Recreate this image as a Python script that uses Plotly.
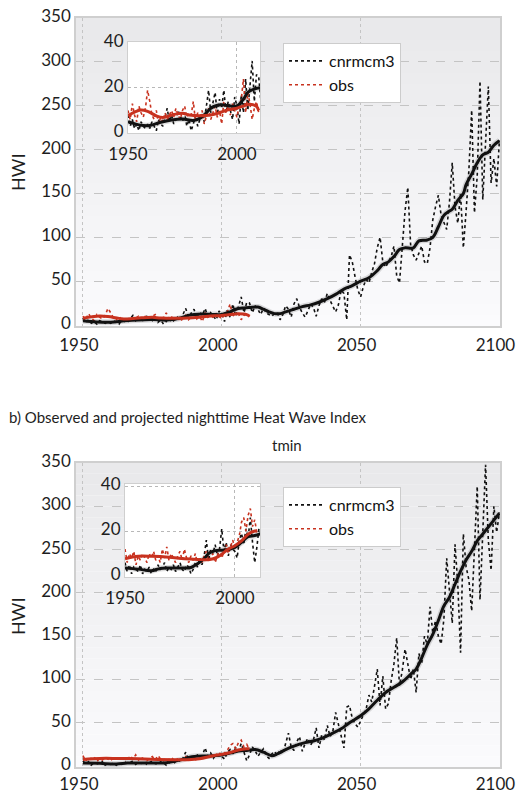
import plotly.graph_objects as go

# ---------------- data ----------------
years = list(range(1950, 2101))
obs_years = list(range(1950, 2011))

tmax_model = [
    8, 3, 6, 2, 4, 1, 5, 3, 2, 4,
    2, 5, 3, 1, 6, 4, 3, 7, 11, 5,
    8, 4, 6, 10, 7, 5, 9, 3, 6, 1,
    4, 8, 3, 6, 9, 5, 12, 19, 9, 14,
    18, 8, 15, 11, 19, 9, 14, 10, 6, 16,
    12, 4, 17, 9, 24, 10, 22, 32, 14, 26,
    25, 14, 22, 18, 12, 19, 14, 12, 10, 13,
    14, 6, 12, 22, 18, 9, 24, 30, 20, 14,
    9, 16, 24, 20, 10, 22, 30, 26, 36, 28,
    22, 15, 23, 40, 36, 6, 80, 72, 55, 40,
    32, 44, 52, 48, 60, 70, 88, 100, 72, 66,
    72, 78, 90, 56, 48, 95, 130, 157, 92, 80,
    74, 82, 90, 72, 70, 88, 120, 135, 148, 125,
    118, 109, 140, 185, 135, 116, 150, 88, 130, 177,
    245, 128, 170, 278, 143, 200, 272, 162, 190, 158,
    211,
]
tmax_obs = [
    10, 6, 13, 8, 5, 12, 9, 7, 11, 19,
    14, 8, 6, 10, 4, 7, 5, 9, 6, 8,
    10, 7, 11, 8, 6, 10, 12, 7, 9, 8,
    14, 5, 9, 6, 10, 4, 8, 11, 6, 9,
    12, 7, 10, 4, 14, 9, 12, 8, 13, 10,
    7, 12, 15, 24, 9, 18, 13, 6, 11, 14,
    9,
]
tmax_model_smooth_years = [1950, 1955, 1960, 1965, 1970, 1975, 1980, 1983, 1985, 1988,
                           1990, 1993, 1997, 2000, 2003, 2005, 2008, 2010, 2013, 2015,
                           2017, 2019, 2021, 2023, 2026, 2029, 2032, 2035, 2038, 2041,
                           2044, 2047, 2050, 2053, 2056, 2058, 2060, 2062, 2064, 2066,
                           2069, 2071, 2074, 2076, 2078, 2080, 2082, 2083, 2085, 2087,
                           2088, 2090, 2092, 2094, 2096, 2098, 2100]
tmax_model_smooth = [5, 3.6, 3.3, 4.8, 5.8, 6.2, 5.6, 6.5, 8, 11,
                     12, 12.5, 12, 12, 15, 18, 19.5, 20, 20.5, 18,
                     15, 13, 13, 15, 18, 21, 23, 26, 30, 35,
                     41, 45, 50, 54, 62, 69, 72, 78, 86, 88,
                     88, 96, 97, 100, 112, 125, 130, 132, 142, 150,
                     160, 172, 185, 194, 197, 205, 210]
tmax_obs_smooth_years = [1950, 1953, 1956, 1959, 1963, 1966, 1971, 1975, 1978, 1983,
                         1988, 1992, 1995, 2000, 2003, 2006, 2009, 2010]
tmax_obs_smooth = [7.7, 9.3, 10.2, 9.6, 7.6, 6.9, 8.2, 8.8, 8, 7.7,
                   8, 9, 10, 11, 12, 12.8, 11.8, 10]

tmin_model = [
    6, 2, 5, 1, 4, 3, 2, 5, 1, 3,
    2, 4, 1, 3, 2, 5, 3, 4, 6, 2,
    4, 3, 5, 2, 4, 6, 3, 2, 5, 4,
    1, 3, 6, 4, 8, 5, 9, 16, 7, 12,
    10, 14, 9, 12, 21, 11, 15, 9, 14, 12,
    11, 8, 16, 19, 14, 21, 17, 26, 15, 6,
    13, 22, 18, 11, 16, 20, 12, 9, 14, 17,
    12, 19, 14, 25, 38, 22, 18, 28, 34, 17,
    26, 32, 24, 30, 44, 21, 36, 30, 47, 34,
    40, 62, 48, 35, 21, 68, 70, 55, 49, 45,
    52, 58, 66, 82, 74, 92, 112, 70, 104, 66,
    72, 98, 118, 148, 93, 110, 135, 118, 100, 112,
    85, 130, 118, 150, 140, 184, 154, 168, 150, 141,
    170, 240, 200, 165, 256, 210, 131, 268, 230, 215,
    179, 260, 323, 192, 280, 348, 260, 226, 300, 270,
    293,
]
tmin_obs = [
    12, 6, 10, 8, 11, 5, 9, 7, 10, 8,
    6, 10, 8, 11, 7, 9, 6, 12, 8, 13,
    7, 10, 8, 6, 9, 11, 7, 12, 8, 6,
    9, 7, 10, 5, 8, 6, 9, 11, 7, 8,
    10, 6, 9, 12, 8, 11, 14, 10, 13, 16,
    12, 15, 18, 24, 26, 20, 27, 30, 22, 25,
    19,
]
tmin_model_smooth_years = [1950, 1956, 1962, 1966, 1970, 1977, 1980, 1983, 1986, 1988,
                           1991, 1995, 2000, 2003, 2006, 2009, 2012, 2015, 2018, 2020,
                           2023, 2026, 2030, 2033, 2036, 2040, 2043, 2046, 2050, 2053,
                           2056, 2059, 2062, 2065, 2068, 2070, 2072, 2074, 2076, 2078,
                           2080, 2082, 2084, 2086, 2088, 2090, 2092, 2094, 2096, 2098,
                           2100]
tmin_model_smooth = [3.6, 3.1, 2.4, 3.4, 3.6, 3.6, 3.8, 5.5, 7.7, 10,
                     11.3, 11.6, 12.8, 15, 17.5, 18, 19, 16, 12, 14,
                     19, 23, 27, 29, 32, 38, 43, 50, 58, 66,
                     76, 85, 91, 97, 106, 112, 125, 140, 152, 168,
                     185, 195, 210, 225, 238, 248, 260, 268, 276, 284,
                     292]
tmin_obs_smooth_years = [1950, 1956, 1962, 1970, 1977, 1983, 1988, 1992, 1997, 2000,
                         2003, 2006, 2009, 2010]
tmin_obs_smooth = [7.7, 8.8, 8.8, 8.4, 7.7, 7.4, 7.3, 8.4, 12, 13.5,
                   15.6, 18.6, 20, 20]

x_ticks_main = [1950, 2000, 2050, 2100]
y_ticks_main = [0, 50, 100, 150, 200, 250, 300, 350]
x_ticks_inset = [1950, 2000]
y_ticks_inset = [0, 20, 40]

model_name = "cnrmcm3"
obs_name = "obs"
panel_b_title = "b) Observed and projected nighttime Heat Wave Index"
panel_b_sub = "tmin"
y_title = "HWI"

# ---------------- styling ----------------
W, H = 516, 796
FONT = "Lato"
TXT = "#1e1e1e"
RED = "#c8321f"
BLACK = "#111111"
GRID = "#c4c4c4"
FRAME = "#cfcfcf"


def dx(a, b):
    return [a / W, b / W]


def dy(top, bottom):
    return [1 - bottom / H, 1 - top / H]


fig = go.Figure()


def add_series(xa, ya, model, obs, ms_y, ms, os_y, os, legend, showleg, cut=None):
    my = years
    mv = model
    if cut is not None:
        my = [y for y in years if y <= cut]
        mv = model[:len(my)]
        ms_pairs = [(a, b) for a, b in zip(ms_y, ms) if a <= cut + 3]
        ms_y = [p[0] for p in ms_pairs]
        ms = [p[1] for p in ms_pairs]
    common = dict(xaxis=xa, yaxis=ya, mode="lines", hoverinfo="skip")
    fig.add_trace(go.Scatter(x=ms_y, y=ms, line=dict(color="rgba(0,0,0,0.13)", width=6),
                             showlegend=False, line_shape="spline", **common))
    fig.add_trace(go.Scatter(x=my, y=mv, name=model_name,
                             line=dict(color=BLACK, width=1.6, dash="dot"),
                             showlegend=showleg, legend=legend, **common))
    fig.add_trace(go.Scatter(x=obs_years, y=obs, name=obs_name,
                             line=dict(color=RED, width=1.6, dash="dot"),
                             showlegend=showleg, legend=legend, **common))
    fig.add_trace(go.Scatter(x=ms_y, y=ms, line=dict(color=BLACK, width=3),
                             showlegend=False, line_shape="spline", **common))
    fig.add_trace(go.Scatter(x=os_y, y=os, line=dict(color=RED, width=3),
                             showlegend=False, line_shape="spline", **common))


add_series("x", "y", tmax_model, tmax_obs, tmax_model_smooth_years, tmax_model_smooth,
           tmax_obs_smooth_years, tmax_obs_smooth, "legend", True)
add_series("x2", "y2", tmax_model, tmax_obs, tmax_model_smooth_years, tmax_model_smooth,
           tmax_obs_smooth_years, tmax_obs_smooth, "legend", False, cut=2011)
add_series("x3", "y3", tmin_model, tmin_obs, tmin_model_smooth_years, tmin_model_smooth,
           tmin_obs_smooth_years, tmin_obs_smooth, "legend2", True)
add_series("x4", "y4", tmin_model, tmin_obs, tmin_model_smooth_years, tmin_model_smooth,
           tmin_obs_smooth_years, tmin_obs_smooth, "legend2", False, cut=2011)

tickfont = dict(family=FONT, size=17, color=TXT)
base_axis = dict(automargin=False, ticks="", tickfont=tickfont, zeroline=False,
                 showline=True, mirror=True, linecolor=FRAME, ticklabeloverflow="allow")


def main_x(dom, anchor, standoff):
    return dict(domain=dom, anchor=anchor, range=[1947.5, 2100.2], tickvals=x_ticks_main,
                showgrid=True, gridcolor=GRID, griddash="dot", gridwidth=1,
                linewidth=1.5, ticklabelshift=-4, ticklabelstandoff=standoff, **base_axis)


def main_y(dom, anchor):
    return dict(domain=dom, anchor=anchor, range=[-1.1, 350], tickvals=y_ticks_main,
                showgrid=True, gridcolor=GRID, griddash="dash", gridwidth=1,
                linewidth=1.5, ticklabelshift=-2, **base_axis)


def inset_x(dom, anchor, rng):
    return dict(domain=dom, anchor=anchor, range=rng, tickvals=x_ticks_inset,
                showgrid=True, gridcolor="#b8b8b8", griddash="dot", gridwidth=1,
                linewidth=1, ticklabelstandoff=6, **base_axis)


def inset_y(dom, anchor, rng):
    return dict(domain=dom, anchor=anchor, range=rng, tickvals=y_ticks_inset,
                showgrid=True, gridcolor="#b8b8b8", griddash="dot", gridwidth=1,
                linewidth=1, ticklabelshift=-2, **base_axis)


legend_common = dict(xanchor="left", yanchor="top", bgcolor="white",
                     bordercolor="#cccccc", borderwidth=1,
                     font=dict(family=FONT, size=16, color="#111"),
                     itemwidth=35, tracegroupgap=0, itemclick=False)

fig.update_layout(
    width=W, height=H, margin=dict(l=0, r=0, t=0, b=0),
    paper_bgcolor="white", plot_bgcolor="white",
    font=dict(family=FONT, color=TXT),
    xaxis=main_x(dx(76, 500), "y", 3),
    yaxis=main_y(dy(18, 326), "x"),
    xaxis2=inset_x(dx(128, 260), "y2", [1950, 2010.6]),
    yaxis2=inset_y(dy(42, 133), "x2", [0, 40.4]),
    xaxis3=main_x(dx(76, 500), "y3", 1),
    yaxis3=main_y(dy(463, 767), "x3"),
    xaxis4=inset_x(dx(125, 260), "y4", [1950, 2011.4]),
    yaxis4=inset_y(dy(484, 577), "x4", [-0.4, 40.9]),
    legend=dict(x=283 / W, y=1 - 43 / H, **legend_common),
    legend2=dict(x=283 / W, y=1 - 487 / H, **legend_common),
    showlegend=True,
)

n = 28
shapes = []
for xr, yr in (("x", "y"), ("x3", "y3")):
    for i in range(n):
        t = i / (n - 1)
        c = int(233 + (251 - 233) * t)
        shapes.append(dict(type="rect", xref=f"{xr} domain", yref=f"{yr} domain",
                           x0=0, x1=1, y0=1 - (i + 1) / n, y1=1 - i / n,
                           fillcolor=f"rgb({c},{c},{min(c + 2, 255)})", line=dict(width=0),
                           layer="below"))
fig.update_layout(shapes=shapes)

ann = [
    dict(text=y_title, x=18 / W, y=1 - 173 / H, xref="paper", yref="paper",
         xanchor="center", yanchor="middle",
         textangle=-90, showarrow=False, font=dict(family=FONT, size=18, color=TXT)),
    dict(text=y_title, x=18 / W, y=1 - 617 / H, xref="paper", yref="paper",
         xanchor="center", yanchor="middle",
         textangle=-90, showarrow=False, font=dict(family=FONT, size=18, color=TXT)),
    dict(text=panel_b_title, x=7 / W, y=1 - 417 / H, xref="paper", yref="paper",
         xanchor="left", yanchor="middle", showarrow=False,
         font=dict(family=FONT, size=15, color=TXT)),
    dict(text=panel_b_sub, x=287 / W, y=1 - 445 / H, xref="paper", yref="paper",
         xanchor="center", yanchor="middle", showarrow=False,
         font=dict(family=FONT, size=15, color=TXT)),
]
fig.update_layout(annotations=ann)

fig.write_html(
    "out.html",
    config={"displayModeBar": False},
    post_script="document.body.style.margin='0';document.body.style.overflow='hidden';",
)
